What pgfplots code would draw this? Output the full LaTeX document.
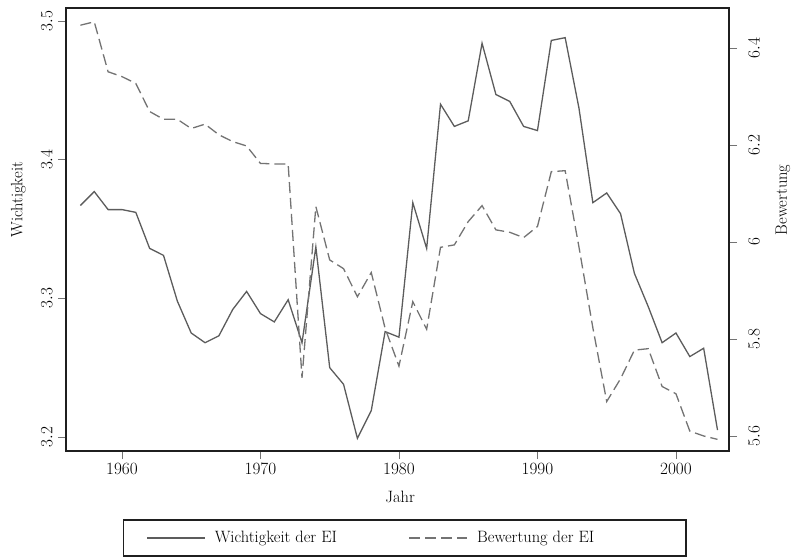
\documentclass[border=0pt]{standalone}
\usepackage{pgfplots}
\pgfplotsset{compat=1.18}
\definecolor{lineA}{gray}{0.36}
\definecolor{lineB}{gray}{0.45}
\definecolor{framec}{gray}{0.12}
\definecolor{tickc}{gray}{0.45}

\pgfplotstableread{
year wicht
1957 3.367
1958 3.377
1959 3.364
1960 3.364
1961 3.362
1962 3.336
1963 3.331
1964 3.298
1965 3.275
1966 3.268
1967 3.273
1968 3.292
1969 3.305
1970 3.289
1971 3.283
1972 3.299
1973 3.268
1974 3.337
1975 3.250
1976 3.238
1977 3.199
1978 3.219
1979 3.276
1980 3.272
1981 3.369
1982 3.336
1983 3.440
1984 3.424
1985 3.428
1986 3.484
1987 3.447
1988 3.442
1989 3.424
1990 3.421
1991 3.486
1992 3.488
1993 3.437
1994 3.369
1995 3.376
1996 3.361
1997 3.318
1998 3.294
1999 3.268
2000 3.275
2001 3.258
2002 3.264
2003 3.205
}\wichttable

\pgfplotstableread{
year bew
1957 6.447
1958 6.454
1959 6.351
1960 6.341
1961 6.327
1962 6.269
1963 6.253
1964 6.253
1965 6.234
1966 6.243
1967 6.221
1968 6.207
1969 6.198
1970 6.162
1971 6.161
1972 6.161
1973 5.720
1974 6.073
1975 5.963
1976 5.945
1977 5.887
1978 5.937
1979 5.822
1980 5.744
1981 5.877
1982 5.820
1983 5.989
1984 5.994
1985 6.042
1986 6.075
1987 6.025
1988 6.020
1989 6.009
1990 6.032
1991 6.145
1992 6.147
1993 5.989
1994 5.823
1995 5.671
1996 5.718
1997 5.777
1998 5.780
1999 5.702
2000 5.687
2001 5.610
2002 5.600
2003 5.593
}\bewtable

\pgfplotsset{
  common/.style={
    at={(66bp,107bp)}, anchor=south west,
    scale only axis, width=663bp, height=443bp,
    xmin=1955.96, xmax=2003.83,
    tick align=outside,
    major tick length=8bp,
    every tick/.style={tickc, line width=0.9bp},
    axis line style={framec, line width=2.2bp},
    tick label style={font=\fontsize{16.5}{19}\selectfont},
    label style={font=\fontsize{16.5}{19}\selectfont},
    /pgf/number format/fixed,
    /pgf/number format/1000 sep={},
  },
  solidA/.style={lineA, line width=1.3bp},
  dashB/.style={lineB, line width=1.3bp, dash pattern=on 11bp off 5bp},
}

\begin{document}
\begin{tikzpicture}
\path[use as bounding box] (0bp,0bp) rectangle (793bp,558bp);
\begin{axis}[common,
  ymin=3.1899, ymax=3.5094,
  ytick={3.2,3.3,3.4,3.5},
  xtick={1960,1970,1980,1990,2000},
  xtick pos=bottom, ytick pos=left,
  yticklabel style={xshift=-2bp, rotate=90, anchor=south},
  xticklabel style={yshift=-1bp},
  xlabel={Jahr}, ylabel={Wichtigkeit},
  xlabel style={at={(axis description cs:0.504,-0.104)}, anchor=center},
  ylabel style={at={(axis description cs:-0.072,0.567)}, anchor=center},
  legend columns=2,
  legend image code/.code={\draw[#1] (0bp,0bp) -- (58bp,0bp);},
  legend style={at={(axis description cs:0.511,-0.1535)}, anchor=north,
    draw=framec, line width=1.8bp, inner xsep=23bp, inner ysep=8.5bp,
    font=\fontsize{16.5}{19}\selectfont,
    nodes={inner sep=3bp},
    cells={anchor=west},
    /tikz/every even column/.append style={column sep=6bp},
    /tikz/every odd column/.append style={column sep=6bp}},
]
\addplot[solidA] table[x=year, y=wicht] {\wichttable};
\addlegendentry{\makebox[185bp][l]{Wichtigkeit der EI}}
\addlegendimage{dashB}
\addlegendentry{\makebox[183bp][l]{Bewertung der EI}}
\end{axis}
\begin{axis}[common,
  ymin=5.569, ymax=6.4825,
  ytick={5.6,5.8,6,6.2,6.4},
  xtick=\empty,
  ytick pos=right, yticklabel pos=right,
  yticklabel style={xshift=8bp, rotate=90, anchor=north},
  ylabel={Bewertung},
  ylabel style={at={(axis description cs:1.0814,0.567)}, anchor=center, rotate=0},
]
\addplot[dashB] table[x=year, y=bew] {\bewtable};
\end{axis}
\end{tikzpicture}
\end{document}
